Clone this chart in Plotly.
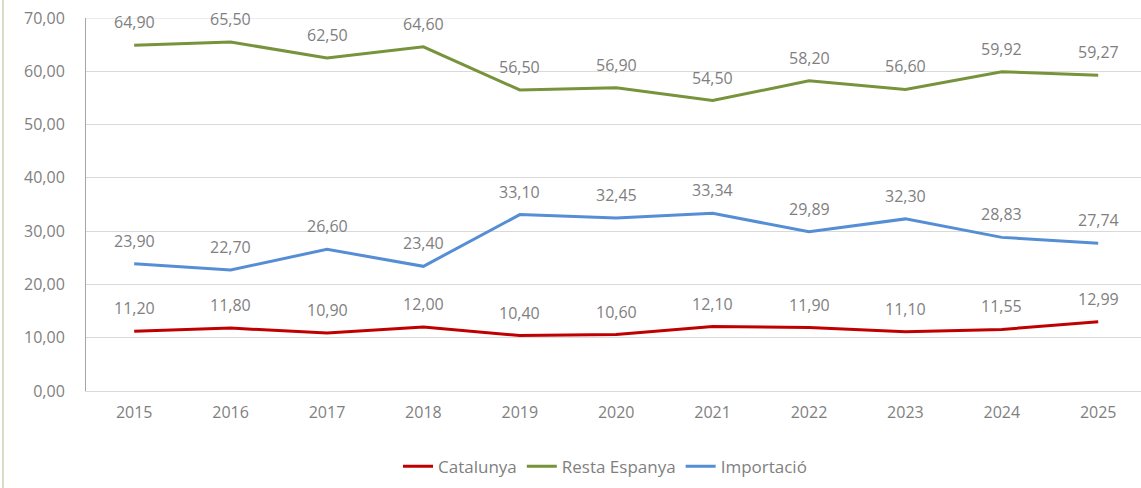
import plotly.graph_objects as go

years = ["2015", "2016", "2017", "2018", "2019", "2020", "2021", "2022", "2023", "2024", "2025"]
catalunya = [11.20, 11.80, 10.90, 12.00, 10.40, 10.60, 12.10, 11.90, 11.10, 11.55, 12.99]
resta_espanya = [64.90, 65.50, 62.50, 64.60, 56.50, 56.90, 54.50, 58.20, 56.60, 59.92, 59.27]
importacio = [23.90, 22.70, 26.60, 23.40, 33.10, 32.45, 33.34, 29.89, 32.30, 28.83, 27.74]
y_ticks = [0, 10, 20, 30, 40, 50, 60, 70]

series = [
    ("Catalunya", catalunya, "#C00000"),
    ("Resta Espanya", resta_espanya, "#77933C"),
    ("Importació", importacio, "#558ED5"),
]

FONT = "Open Sans, Liberation Sans, sans-serif"
GRAY = "#7F7F7F"

fig_w, fig_h = 1141, 488
plot_left, plot_right, plot_top, plot_bottom = 86, 1141, 18, 391

fig = go.Figure()
annotations = []
for name, vals, color in series:
    fig.add_trace(go.Scatter(
        x=list(range(len(years))), y=vals, name=name, mode="lines",
        line=dict(color=color, width=3),
    ))
    for i, v in enumerate(vals):
        annotations.append(dict(
            x=i, y=v, xref="x", yref="y", text=f"{v:.2f}".replace(".", ","),
            showarrow=False, yshift=23, font=dict(family=FONT, size=16, color=GRAY),
        ))

pw = plot_right - plot_left
border_x = (3 - plot_left) / pw
fig.add_shape(type="line", xref="paper", yref="paper",
              x0=border_x, x1=border_x, y0=-0.4, y1=1.1,
              line=dict(color="#D7DEC4", width=2))
# top gridline (plotly omits the gridline lying on the plot edge)
fig.add_shape(type="line", xref="paper", yref="y", x0=0, x1=1,
              y0=y_ticks[-1], y1=y_ticks[-1], layer="below",
              line=dict(color="#D9D9D9", width=1))

fig.update_layout(
    width=fig_w, height=fig_h,
    margin=dict(l=plot_left, r=0, t=plot_top, b=fig_h - plot_bottom),
    paper_bgcolor="white", plot_bgcolor="white",
    separators=",.",
    showlegend=True,
    legend=dict(orientation="h", x=(605 - plot_left) / pw, xanchor="center", y=-0.155, yanchor="top",
                font=dict(family=FONT, size=17, color=GRAY), itemwidth=30,
                traceorder="normal"),
    annotations=annotations,
    font=dict(family=FONT, color=GRAY),
)
fig.update_xaxes(
    tickmode="array", tickvals=list(range(len(years))), ticktext=years,
    range=[-0.5, pw / 96.4 - 0.5],
    showgrid=False, showline=True, linecolor="#D9D9D9", linewidth=1,
    tickfont=dict(family=FONT, size=16, color=GRAY), ticks="", zeroline=False,
    ticklabelstandoff=7,
)
fig.update_yaxes(
    range=[0, 70], tickmode="array", tickvals=y_ticks,
    tickformat=".2f",
    showgrid=True, gridcolor="#D9D9D9", gridwidth=1,
    showline=True, linecolor="#A6A6A6", linewidth=1,
    tickfont=dict(family=FONT, size=16, color=GRAY), zeroline=False, ticks="",
    ticklabelstandoff=17,
)
fig.write_html("out.html", config={"displayModeBar": False},
               post_script="document.body.style.margin='0';")
